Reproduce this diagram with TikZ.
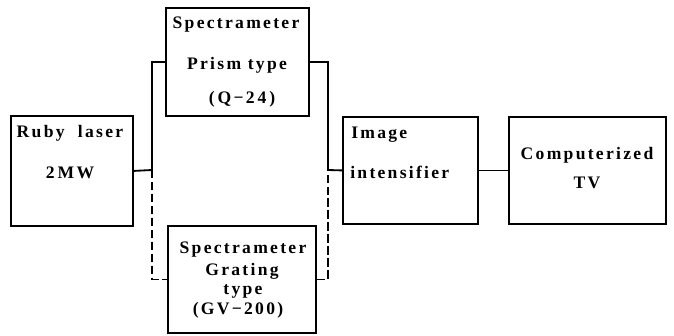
\documentclass[tikz,border=0pt]{standalone}
\usepackage{fontspec}
\setmainfont{Liberation Serif}[LetterSpace=13]
\usepackage{tikz}
\newlength\px
\setlength\px{0.025cm}
\tikzset{blk/.style={draw, line width=1.3pt, anchor=north west, inner sep=0pt},
	txt/.style={inner sep=0pt, font=\fontsize{12.5}{14}\selectfont\bfseries},
	wire/.style={line width=1.3pt},
	dwire/.style={line width=1.3pt, dash pattern=on 6pt off 2.5pt}
}

\begin{document}
\begin{tikzpicture}[x=0.025cm, y=-0.025cm]
\useasboundingbox (0,0) rectangle (674,335);
		\node[blk, minimum width=122\px, minimum height=110\px] (ruby) at (10,115) {};
		\node[blk, minimum width=143\px, minimum height=108\px] (prism) at (165,7) {};
		\node[blk, minimum width=148\px, minimum height=107\px] (grating) at (167,225) {};
		\node[blk, minimum width=135\px, minimum height=107\px] (image) at (342,116) {};
		\node[blk, minimum width=157\px, minimum height=107\px] (tv) at (508,116) {};
		
		\node[txt] (rubyA) at (70,133) {Ruby\ \ laser};
		\node[txt] (rubyB) at (70,173) {2\,MW};
		
		\node[txt] (prismA) at (236,25) {Spectrameter};
		\node[txt] (prismB) at (237,65) {Prism type};
		\node[txt] (prismC) at (242,99) {(\,Q−2\,4\,)};
		
		\node[txt] (gratingA) at (243,250) {Spectrameter};
		\node[txt] (gratingB) at (242,271) {Grating};
		\node[txt] (gratingC) at (243,291) {type};
		\node[txt] (gratingD) at (238,310) {(GV−200)};
		
		\node[txt, anchor=west] (imageA) at (351,135) {Image};
		\node[txt, anchor=west] (imageB) at (350,172) {intensifier};
		
		\node[txt] (tvA) at (587,155) {Computerized};
		\node[txt] (tvB) at (587,183) {TV};
		
		\coordinate (jl) at (152,170);
		\coordinate (jr) at (328,170);
		\draw[wire] (ruby.east) -- (jl) |- (prism.west);
		\draw[dwire] (jl) |- (grating.west);
		\draw[wire] (prism.east) -| (jr) -- (image.west);
		\draw[dwire] (grating.east) -| (jr);
		\draw[wire] (image.east) -- (tv.west);
\end{tikzpicture}
\end{document}
